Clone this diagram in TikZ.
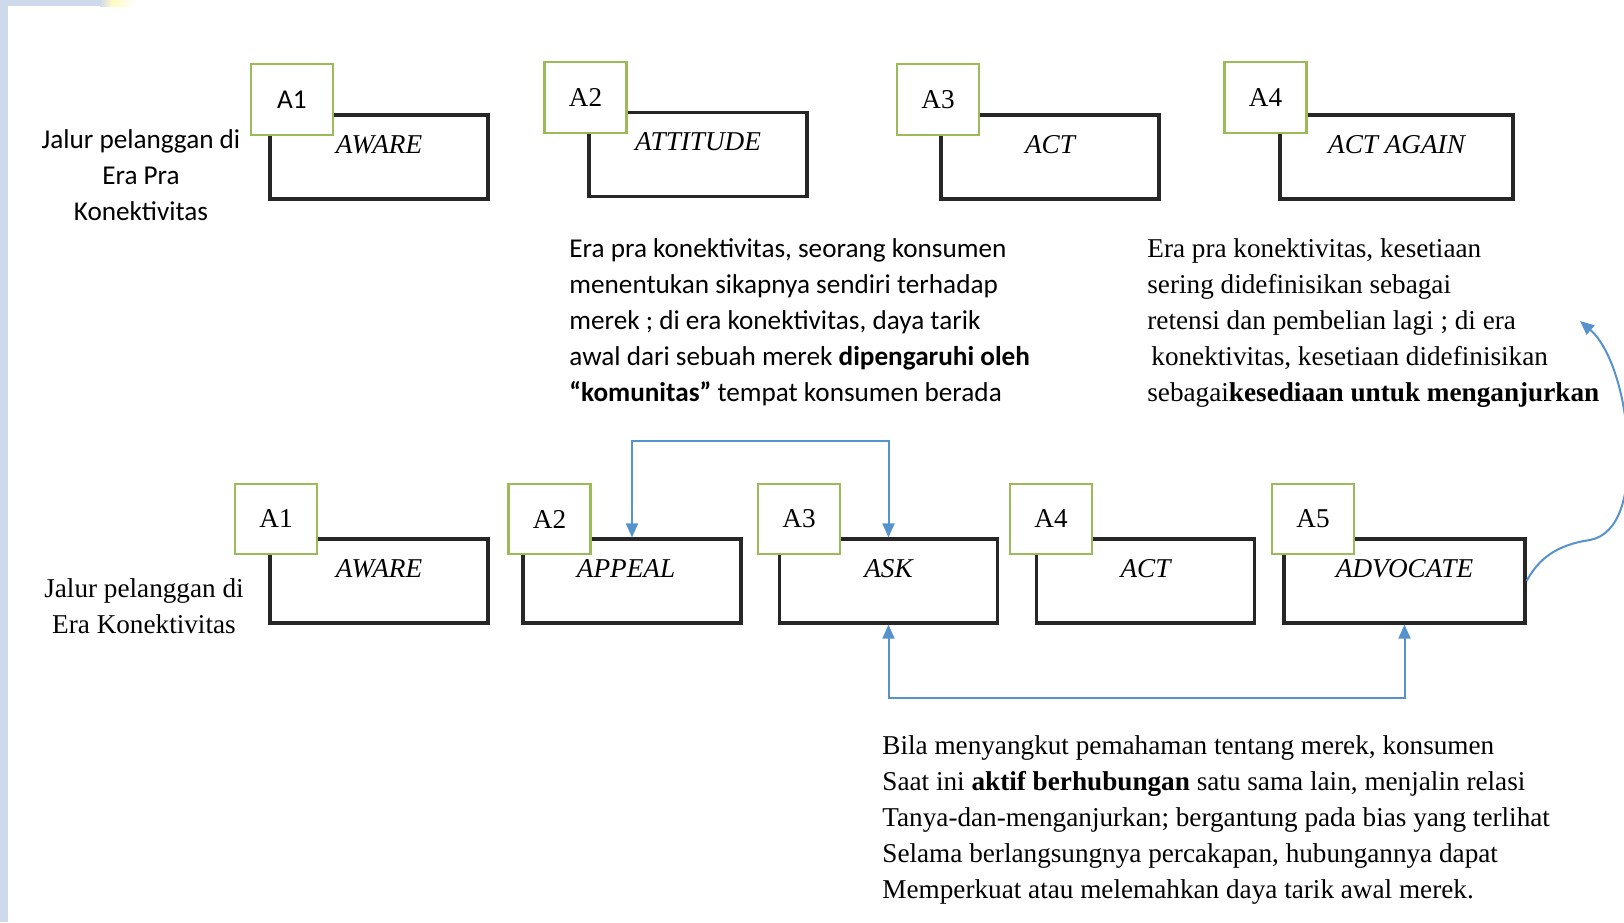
\documentclass[tikz,border=0pt]{standalone}
\usepackage{fontspec}
\setmainfont{Liberation Serif}
\newfontfamily\calib{Carlito}
\usetikzlibrary{arrows.meta,calc}
\definecolor{gbox}{RGB}{155,187,89}
\definecolor{conn}{RGB}{86,146,205}
\definecolor{strip}{RGB}{207,217,236}
\definecolor{ylw}{RGB}{255,250,196}
\begin{document}
\begin{tikzpicture}[x=0.5pt,y=-0.5pt,
  stagebox/.style={draw=black!85, line width=1.6pt, fill=white, minimum width=109pt, minimum height=42pt, inner sep=0pt},
  tagbox/.style={draw=gbox, line width=1.2pt, fill=white, minimum width=41pt, minimum height=35.5pt, inner sep=0pt, font=\fontsize{13.6}{16}\selectfont},
  stagelab/.style={font=\fontsize{13.6}{16}\selectfont\itshape, inner sep=0pt},
  link/.style={draw=conn, line width=1pt, {Triangle[length=7pt,width=6pt]}-{Triangle[length=7pt,width=6pt]}},
  para/.style={anchor=north west, align=left, inner sep=0pt, font=\fontsize{13.6}{18}\selectfont},
  sidelab/.style={align=center, inner sep=0pt, font=\fontsize{13.6}{18}\selectfont}]
\useasboundingbox (0,0) rectangle (1624,922);
% page decoration strips
\fill[strip] (0,0) rectangle (8,922);
\fill[strip] (0,0) rectangle (100,6);
\shade[left color=strip, right color=ylw] (100,0) rectangle (112,6);
\shade[left color=ylw, right color=white] (112,0) rectangle (136,6);

% ---------- top row ----------
\node[stagebox] (t1) at (379,157) {};
\node[stagebox] (t2) at (698,154.5) {};
\node[stagebox] (t3) at (1050,157) {};
\node[stagebox, minimum width=116.5pt] (t4) at (1396.5,157) {};
\node[tagbox] (ta1) at (292,99.5) {\calib A1};
\node[tagbox] (ta2) at (585.5,97.5) {A2};
\node[tagbox] (ta3) at (938,99.5) {A3};
\node[tagbox] (ta4) at (1265.5,97.5) {A4};
\node[stagelab] (tl1) at ($(t1.north)+(0,31)$) {AWARE};
\node[stagelab] (tl2) at ($(t2.north)+(0,31)$) {ATTITUDE};
\node[stagelab] (tl3) at ($(t3.north)+(0,31)$) {ACT};
\node[stagelab] (tl4) at ($(t4.north)+(0,31)$) {ACT AGAIN};
\node[sidelab, font=\calib\fontsize{13.6}{18}\selectfont, anchor=north] (toplab) at (141,129) {Jalur pelanggan di\\Era Pra\\Konektivitas};

% ---------- middle texts ----------
\node[para, font=\calib\fontsize{13.6}{18}\selectfont] (ptxt1) at (569,238) {Era pra konektivitas, seorang konsumen\\menentukan sikapnya sendiri terhadap\\merek ; di era konektivitas, daya tarik\\awal dari sebuah merek \textbf{dipengaruhi oleh}\\\textbf{“komunitas”} tempat konsumen berada};
\node[para] (ptxt2) at (1147,238) {Era pra konektivitas, kesetiaan\\sering didefinisikan sebagai\\retensi dan pembelian lagi ; di era\\\hspace{2pt}konektivitas, kesetiaan didefinisikan\\sebagai\textbf{kesediaan untuk menganjurkan}};

% ---------- bottom row ----------
\node[stagebox] (b1) at (379,581) {};
\node[stagebox] (b2) at (632,581) {};
\node[stagebox] (b3) at (888.5,581) {};
\node[stagebox] (b4) at (1145.5,581) {};
\node[stagebox, minimum width=120.5pt] (b5) at (1404.5,581) {};
\node[tagbox, minimum height=35pt] (ba1) at (276,519) {A1};
\node[tagbox, minimum height=35pt] (ba2) at (549.5,519) {A2};
\node[tagbox, minimum height=35pt] (ba3) at (799,519) {A3};
\node[tagbox, minimum height=35pt] (ba4) at (1051,519) {A4};
\node[tagbox, minimum height=35pt] (ba5) at (1313,519) {A5};
\node[stagelab] (bl1) at ($(b1.north)+(0,31)$) {AWARE};
\node[stagelab] (bl2) at ($(b2.north)+(-6,31)$) {APPEAL};
\node[stagelab] (bl3) at ($(b3.north)+(0,31)$) {ASK};
\node[stagelab] (bl4) at ($(b4.north)+(0,31)$) {ACT};
\node[stagelab] (bl5) at ($(b5.north)+(0,31)$) {ADVOCATE};
\node[sidelab, anchor=north] (botlab) at (144,578) {Jalur pelanggan di\\Era Konektivitas};

\node[para] (ptxt3) at (882,735) {Bila menyangkut pemahaman tentang merek, konsumen\\Saat ini \textbf{aktif berhubungan} satu sama lain, menjalin relasi\\Tanya-dan-menganjurkan; bergantung pada bias yang terlihat\\Selama berlangsungnya percakapan, hubungannya dapat\\Memperkuat atau melemahkan daya tarik awal merek.};

% ---------- connectors ----------
\draw[link] (b2.north) -- ++(0,-96) -| (b3.north);
\draw[link] (b3.south) -- ++(0,73) -| (b5.south);
\coordinate (tip) at (1580,321);
\draw[draw=conn, line width=1pt, -{Triangle[length=7pt,width=6pt]}]
  (b5.east) .. controls (1538,560) and (1555,545) .. (1590,540)
  .. controls (1620,534) and (1629,495) .. (1628,450)
  .. controls (1626,390) and (1608,345) .. (tip);
\end{tikzpicture}
\end{document}
